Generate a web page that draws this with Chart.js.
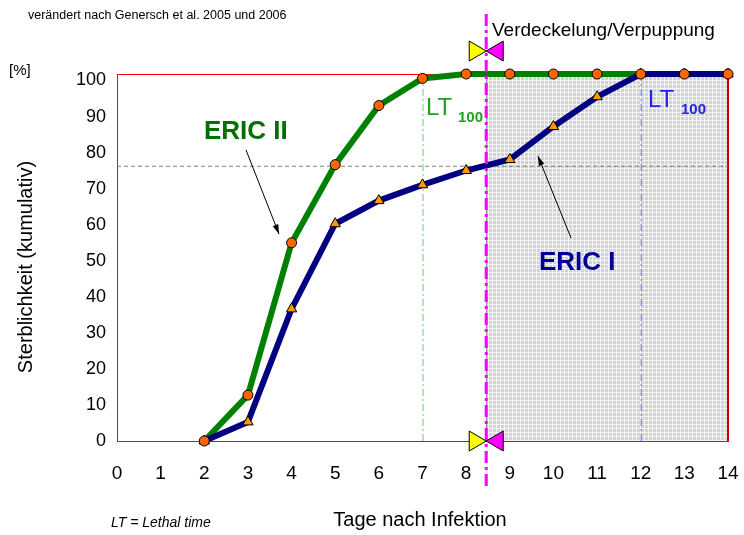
<!DOCTYPE html>
<html>
<head>
<meta charset="utf-8">
<script src="https://cdn.jsdelivr.net/npm/chart.js@4.4.1/dist/chart.umd.min.js"></script>
<style>
  body { margin: 0; background: #fff; }
  #chart { display: block; }
</style>
</head>
<body>
<canvas id="chart" width="744" height="535"></canvas>
<script>
// Tage nach Infektion
const tage = [2, 3, 4, 5, 6, 7, 8, 9, 10, 11, 12, 13, 14]
// Sterblichkeit kumulativ in %
const ericII = [0, 12.5, 54, 75.3, 91.4, 98.8, 100, 100, 100, 100, 100, 100, 100]
const ericI = [0, 5.2, 36, 59.2, 65.5, 69.8, 73.7, 76.7, 85.7, 93.8, 100, 100, 100]
const xTicks = [0, 1, 2, 3, 4, 5, 6, 7, 8, 9, 10, 11, 12, 13, 14]
const yTicks = [0, 10, 20, 30, 40, 50, 60, 70, 80, 90, 100]
// Verdeckelung, LT100 und 75%-Linie
const verdeckelung = 8.46
const lt100 = [7, 12]
const linie75 = 75

Chart.defaults.font.family = "'Liberation Sans', Arial, sans-serif"
Chart.defaults.color = '#000'

// graues Raster fuer den Bereich nach der Verdeckelung
function rasterMuster(ctx) {
  const c = document.createElement('canvas')
  c.width = 4
  c.height = 4
  const g = c.getContext('2d')
  g.fillStyle = '#d2d2d2'
  g.fillRect(0, 0, 4, 4)
  g.fillStyle = '#f4f4f4'
  g.fillRect(0, 0, 4, 1)
  g.fillRect(0, 0, 1, 4)
  return ctx.createPattern(c, 'repeat')
}

function pfeil(ctx, x1, y1, x2, y2) {
  const a = Math.atan2(y2 - y1, x2 - x1)
  ctx.strokeStyle = '#000'
  ctx.fillStyle = '#000'
  ctx.lineWidth = 1
  ctx.beginPath()
  ctx.moveTo(x1, y1)
  ctx.lineTo(x2, y2)
  ctx.stroke()
  ctx.beginPath()
  ctx.moveTo(x2, y2)
  ctx.lineTo(x2 - 10 * Math.cos(a - 0.3), y2 - 10 * Math.sin(a - 0.3))
  ctx.lineTo(x2 - 10 * Math.cos(a + 0.3), y2 - 10 * Math.sin(a + 0.3))
  ctx.closePath()
  ctx.fill()
}

function schleife(ctx, x, y) {
  ctx.lineWidth = 1
  ctx.strokeStyle = '#000'
  ctx.fillStyle = '#ffff00'
  ctx.beginPath()
  ctx.moveTo(x - 17, y - 10)
  ctx.lineTo(x - 17, y + 10)
  ctx.lineTo(x, y)
  ctx.closePath()
  ctx.fill()
  ctx.stroke()
  ctx.fillStyle = '#ff00ff'
  ctx.beginPath()
  ctx.moveTo(x + 17, y - 10)
  ctx.lineTo(x + 17, y + 10)
  ctx.lineTo(x, y)
  ctx.closePath()
  ctx.fill()
  ctx.stroke()
}

const hintergrund = {
  id: 'hintergrund',
  beforeDatasetsDraw(chart) {
    const ctx = chart.ctx
    const a = chart.chartArea
    const xs = chart.scales.x
    const ys = chart.scales.y
    const xv = xs.getPixelForValue(verdeckelung)
    ctx.save()
    ctx.fillStyle = rasterMuster(ctx)
    ctx.fillRect(xv, a.top, a.right - xv, a.bottom - a.top)
    ctx.strokeStyle = '#808080'
    ctx.lineWidth = 1
    ctx.beginPath()
    ctx.moveTo(xv + 0.5, a.top)
    ctx.lineTo(xv + 0.5, a.bottom)
    ctx.stroke()

    // Rahmen
    ctx.strokeStyle = '#ff0000'
    ctx.lineWidth = 1
    ctx.strokeRect(a.left + 0.5, a.top + 0.5, a.right - a.left, a.bottom - a.top)
    ctx.strokeStyle = '#cc0000'
    ctx.lineWidth = 2
    ctx.beginPath()
    ctx.moveTo(a.right, a.top)
    ctx.lineTo(a.right, a.bottom)
    ctx.stroke()

    // 75 %
    const y75 = ys.getPixelForValue(linie75)
    ctx.strokeStyle = '#808080'
    ctx.lineWidth = 1
    ctx.setLineDash([4, 3])
    ctx.beginPath()
    ctx.moveTo(a.left, y75 + 0.5)
    ctx.lineTo(a.right, y75 + 0.5)
    ctx.stroke()

    // LT100
    const farben = ['#66cc66', '#6666ff']
    lt100.forEach((t, i) => {
      const x = xs.getPixelForValue(t)
      ctx.strokeStyle = farben[i]
      ctx.setLineDash([7, 3, 2, 3])
      ctx.beginPath()
      ctx.moveTo(x + 0.5, a.top)
      ctx.lineTo(x + 0.5, a.bottom)
      ctx.stroke()
    })
    ctx.restore()
  },
  afterDraw(chart) {
    const ctx = chart.ctx
    const a = chart.chartArea
    const xs = chart.scales.x
    const xv = xs.getPixelForValue(verdeckelung)
    ctx.save()

    ctx.strokeStyle = '#ff00ff'
    ctx.lineWidth = 3
    ctx.setLineDash([12, 4, 3, 4])
    ctx.beginPath()
    ctx.moveTo(xv, 14)
    ctx.lineTo(xv, 486)
    ctx.stroke()
    ctx.setLineDash([])

    schleife(ctx, xv, 51)
    schleife(ctx, xv, a.bottom)

    ctx.fillStyle = '#000'
    ctx.textBaseline = 'alphabetic'
    ctx.textAlign = 'left'
    ctx.font = "12.5px 'Liberation Sans'"
    ctx.fillText('verändert nach Genersch et al. 2005 und 2006', 28, 19)
    ctx.font = "19px 'Liberation Sans'"
    ctx.fillText('Verdeckelung/Verpuppung', 492, 36)
    ctx.font = "15px 'Liberation Sans'"
    ctx.fillText('[%]', 9, 75)
    ctx.font = "italic 14px 'Liberation Sans'"
    ctx.fillText('LT = Lethal time', 111, 527)
    ctx.font = "20px 'Liberation Sans'"
    ctx.textAlign = 'center'
    ctx.fillText('Tage nach Infektion', 420, 526)

    ctx.save()
    ctx.translate(32, 267)
    ctx.rotate(-Math.PI / 2)
    ctx.fillText('Sterblichkeit (kumulativ)', 0, 0)
    ctx.restore()

    ctx.textAlign = 'left'
    ctx.font = "bold 26px 'Liberation Sans'"
    ctx.fillStyle = '#007000'
    ctx.fillText('ERIC II', 204, 139)
    ctx.fillStyle = '#000099'
    ctx.fillText('ERIC I', 539, 270)

    ctx.font = "24px 'Liberation Sans'"
    ctx.fillStyle = '#1fa31f'
    ctx.fillText('LT', 426, 115)
    ctx.fillStyle = '#2222ee'
    ctx.fillText('LT', 648, 107)
    ctx.font = "bold 15px 'Liberation Sans'"
    ctx.fillStyle = '#1fa31f'
    ctx.fillText('100', 458, 122)
    ctx.fillStyle = '#2222ee'
    ctx.fillText('100', 681, 114)

    pfeil(ctx, 246, 150, 279, 234)
    pfeil(ctx, 571, 238, 538, 156)
    ctx.restore()
  }
}

new Chart(document.getElementById('chart'), {
  type: 'line',
  data: {
    datasets: [
      {
        // Linie ERIC II (unten)
        label: 'ERIC II',
        data: tage.map((t, i) => ({ x: t, y: ericII[i] })),
        borderColor: '#008000',
        borderWidth: 6,
        pointRadius: 0,
        clip: false,
        order: 3
      },
      {
        label: 'ERIC I',
        data: tage.map((t, i) => ({ x: t, y: ericI[i] })),
        borderColor: '#000080',
        borderWidth: 6,
        pointStyle: 'triangle',
        pointRadius: 6,
        pointBackgroundColor: '#ff9900',
        pointBorderColor: '#000',
        pointBorderWidth: 1,
        clip: false,
        order: 2
      },
      {
        // Punkte ERIC II (oben)
        label: 'ERIC II Punkte',
        data: tage.map((t, i) => ({ x: t, y: ericII[i] })),
        showLine: false,
        pointStyle: 'circle',
        pointRadius: 5,
        pointBackgroundColor: '#ff6600',
        pointBorderColor: '#000',
        pointBorderWidth: 1,
        clip: false,
        order: 1
      }
    ]
  },
  options: {
    responsive: false,
    animation: false,
    events: [],
    layout: { padding: { top: 74, right: 16, left: 0, bottom: 0 } },
    plugins: {
      legend: { display: false },
      tooltip: { enabled: false }
    },
    scales: {
      x: {
        type: 'linear',
        min: 0,
        max: 14,
        afterBuildTicks(s) { s.ticks = xTicks.map(v => ({ value: v })) },
        afterFit(s) {
          s.height = 94
          s.paddingLeft = 0
          s.paddingRight = 0
        },
        grid: { display: false, drawTicks: false },
        border: { display: false },
        ticks: { font: { size: 19 }, padding: 21, color: '#000' }
      },
      y: {
        display: false,
        min: 0,
        max: 100
      },
      yl: {
        position: 'left',
        min: 0,
        max: 101.8,
        afterBuildTicks(s) { s.ticks = yTicks.map(v => ({ value: v })) },
        afterFit(s) {
          s.width = 117
          s.paddingTop = 0
          s.paddingBottom = 0
        },
        grid: { display: false, drawTicks: false },
        border: { display: false },
        ticks: { font: { size: 18 }, padding: 11, color: '#000' }
      }
    }
  },
  plugins: [hintergrund]
})
</script>
</body>
</html>
